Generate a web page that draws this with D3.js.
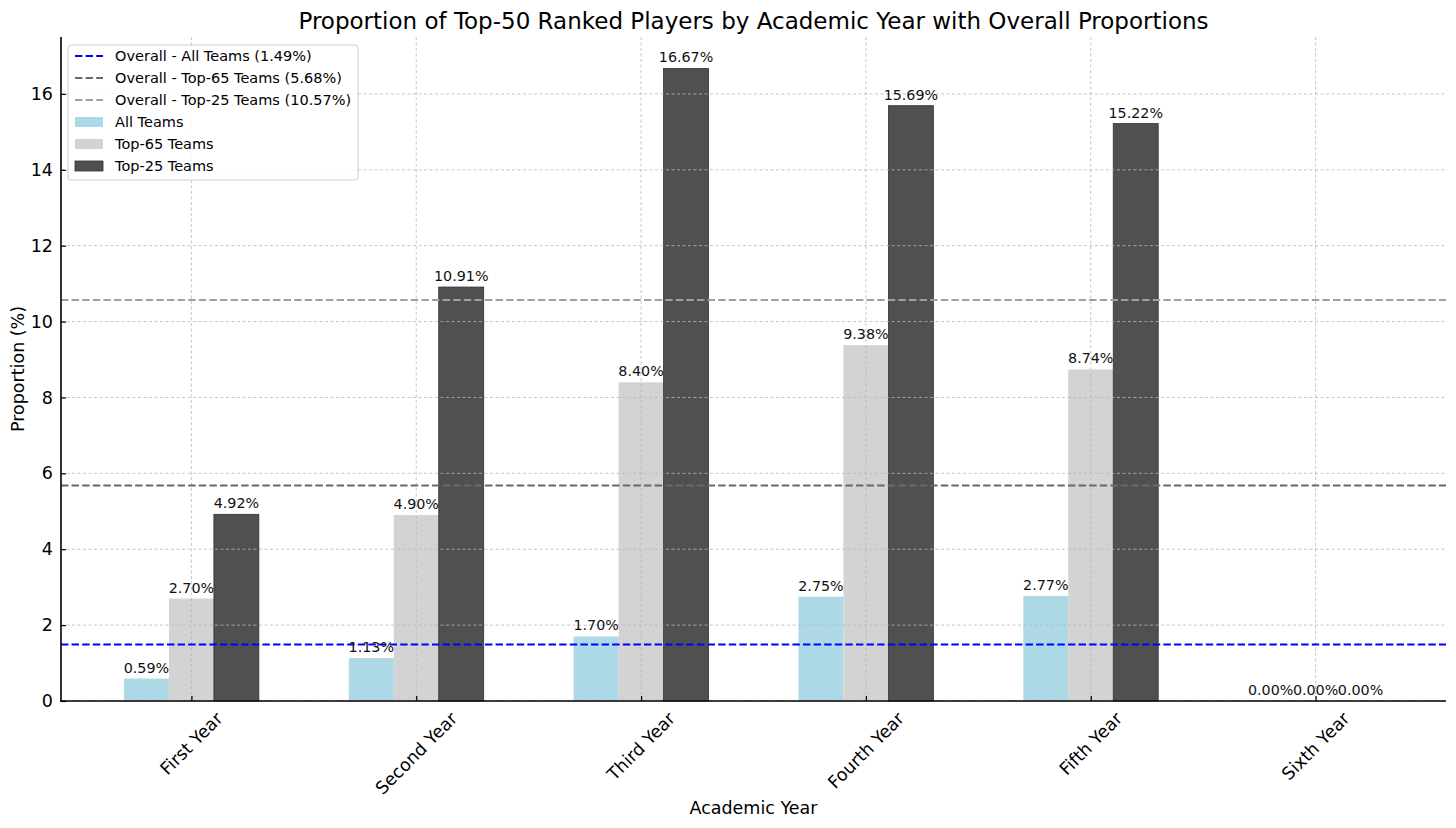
<!DOCTYPE html>
<html><head><meta charset="utf-8">
<script src="https://cdn.jsdelivr.net/npm/d3@7"></script>
<style>body{margin:0;background:#fff}svg{display:block;font-family:"DejaVu Sans",sans-serif}</style>
</head><body><svg id="c" width="1456" height="828"></svg>
<script>
const categories = ["First Year","Second Year","Third Year","Fourth Year","Fifth Year","Sixth Year"];
const allTeams = [0.59,1.13,1.70,2.75,2.77,0.00];
const top65 = [2.70,4.90,8.40,9.38,8.74,0.00];
const top25 = [4.92,10.91,16.67,15.69,15.22,0.00];
const seriesNames = ["All Teams","Top-65 Teams","Top-25 Teams"];
const overallValues = [1.49,5.68,10.57];
const overallNames = ["Overall - All Teams","Overall - Top-65 Teams","Overall - Top-25 Teams"];
const yTicks = [0,2,4,6,8,10,12,14,16];

const colors = ["#add8e6","#d3d3d3","#505050"];
const lineColors = ["#0000ff","#696969","#a0a0a0"];
const series = [allTeams, top65, top25];

const svg = d3.select("#c");
const L=61, R=1446, T=37, B=701;
const x = d3.scaleLinear().domain([-0.58, 5.58]).range([L,R]);
const y = d3.scaleLinear().domain([0,17.5]).range([B,T]);
const bw = 0.2;

// bars
series.forEach((s,si)=>{
  svg.append("g").selectAll("rect").data(s).join("rect")
    .attr("x",(d,i)=>x(i+(si-1)*bw-bw/2))
    .attr("width",x(bw)-x(0))
    .attr("y",d=>y(d)).attr("height",d=>y(0)-y(d))
    .attr("fill",colors[si])
    .attr("stroke",si===2?"#333":"none").attr("stroke-width",0.8);
});

// grid
const grid = svg.append("g").attr("stroke","#b8b8b8").attr("stroke-width",0.8).attr("stroke-dasharray","3,2.5");
grid.selectAll("line.h").data(yTicks).join("line").attr("class","h")
  .attr("x1",L).attr("x2",R).attr("y1",d=>y(d)).attr("y2",d=>y(d));
grid.selectAll("line.v").data(categories).join("line").attr("class","v")
  .attr("x1",(d,i)=>x(i)).attr("x2",(d,i)=>x(i)).attr("y1",T).attr("y2",B);

// overall lines
svg.append("g").selectAll("line").data(overallValues).join("line")
  .attr("x1",L).attr("x2",R).attr("y1",d=>y(d)).attr("y2",d=>y(d))
  .attr("stroke",(d,i)=>lineColors[i]).attr("stroke-width",2).attr("stroke-dasharray","7.4,3.2");

// value labels
series.forEach((s,si)=>{
  svg.append("g").selectAll("text").data(s).join("text")
    .attr("x",(d,i)=>x(i+(si-1)*bw))
    .attr("y",d=>y(d)-6)
    .attr("text-anchor","middle").attr("font-size",14.3).attr("fill","#111")
    .text(d=>d.toFixed(2)+"%");
});

// axes
const yAxis = d3.axisLeft(y).tickValues(yTicks).tickSize(-5).tickPadding(8).tickFormat(d3.format("d"));
const gy = svg.append("g").attr("transform",`translate(${L},0)`).call(yAxis);
gy.select(".domain").remove();
gy.selectAll(".tick line").attr("stroke","#000").attr("stroke-width",1.2);
gy.selectAll(".tick text").attr("font-size",17.5).attr("font-family","DejaVu Sans").attr("fill","#000");

const gx = svg.append("g").attr("transform",`translate(0,${B})`)
  .call(d3.axisBottom(x).tickValues(d3.range(categories.length)).tickSize(-5).tickFormat(""));
gx.select(".domain").remove();
gx.selectAll(".tick line").attr("stroke","#000").attr("stroke-width",1.2);

// spines
svg.append("line").attr("x1",L).attr("x2",L).attr("y1",T).attr("y2",B+0.8).attr("stroke","#000").attr("stroke-width",1.6);
svg.append("line").attr("x1",L-0.8).attr("x2",R).attr("y1",B).attr("y2",B).attr("stroke","#000").attr("stroke-width",1.6);

// x tick labels rotated 45, bbox centered
categories.forEach((c,i)=>{
  const t = svg.append("text").attr("font-size",17.5).attr("fill","#000")
    .attr("text-anchor","middle").attr("dominant-baseline","central").text(c);
  const w = t.node().getComputedTextLength();
  const h = 17.5*1.05;
  const bh = (w+h)*Math.SQRT1_2;
  const cy = B + 8 + bh/2;
  t.attr("transform",`translate(${x(i)},${cy}) rotate(-45)`);
});

// titles
svg.append("text").attr("x",(L+R)/2).attr("y",29).attr("text-anchor","middle").attr("font-size",23).attr("fill","#000")
  .text("Proportion of Top-50 Ranked Players by Academic Year with Overall Proportions");
svg.append("text").attr("x",(L+R)/2).attr("y",814).attr("text-anchor","middle").attr("font-size",17.5).attr("fill","#000")
  .text("Academic Year");
svg.append("text").attr("transform",`translate(24,${(T+B)/2}) rotate(-90)`).attr("text-anchor","middle").attr("font-size",17.5).attr("fill","#000")
  .text("Proportion (%)");

// legend
const lg = svg.append("g").attr("transform","translate(68,45)");
lg.append("rect").attr("width",290).attr("height",135).attr("rx",3).attr("fill","#fff").attr("fill-opacity",0.85)
  .attr("stroke","#cccccc").attr("stroke-width",1);
const items = overallNames.map((n,i)=>({type:"line",label:`${n} (${overallValues[i].toFixed(2)}%)`,color:lineColors[i]}))
  .concat(seriesNames.map((n,i)=>({type:"rect",label:n,color:colors[i]})));
items.forEach((it,i)=>{
  const cy = 11 + i*22;
  if(it.type==="line"){
    lg.append("line").attr("x1",7).attr("x2",35).attr("y1",cy).attr("y2",cy)
      .attr("stroke",it.color).attr("stroke-width",2).attr("stroke-dasharray","7.4,3.2");
  } else {
    lg.append("rect").attr("x",7).attr("y",cy-5).attr("width",28).attr("height",10).attr("fill",it.color)
      .attr("stroke",i===5?"#333":"none").attr("stroke-width",0.8);
  }
  lg.append("text").attr("x",47).attr("y",cy).attr("dominant-baseline","central").attr("font-size",14.5).attr("fill","#000").text(it.label);
});
</script></body></html>
